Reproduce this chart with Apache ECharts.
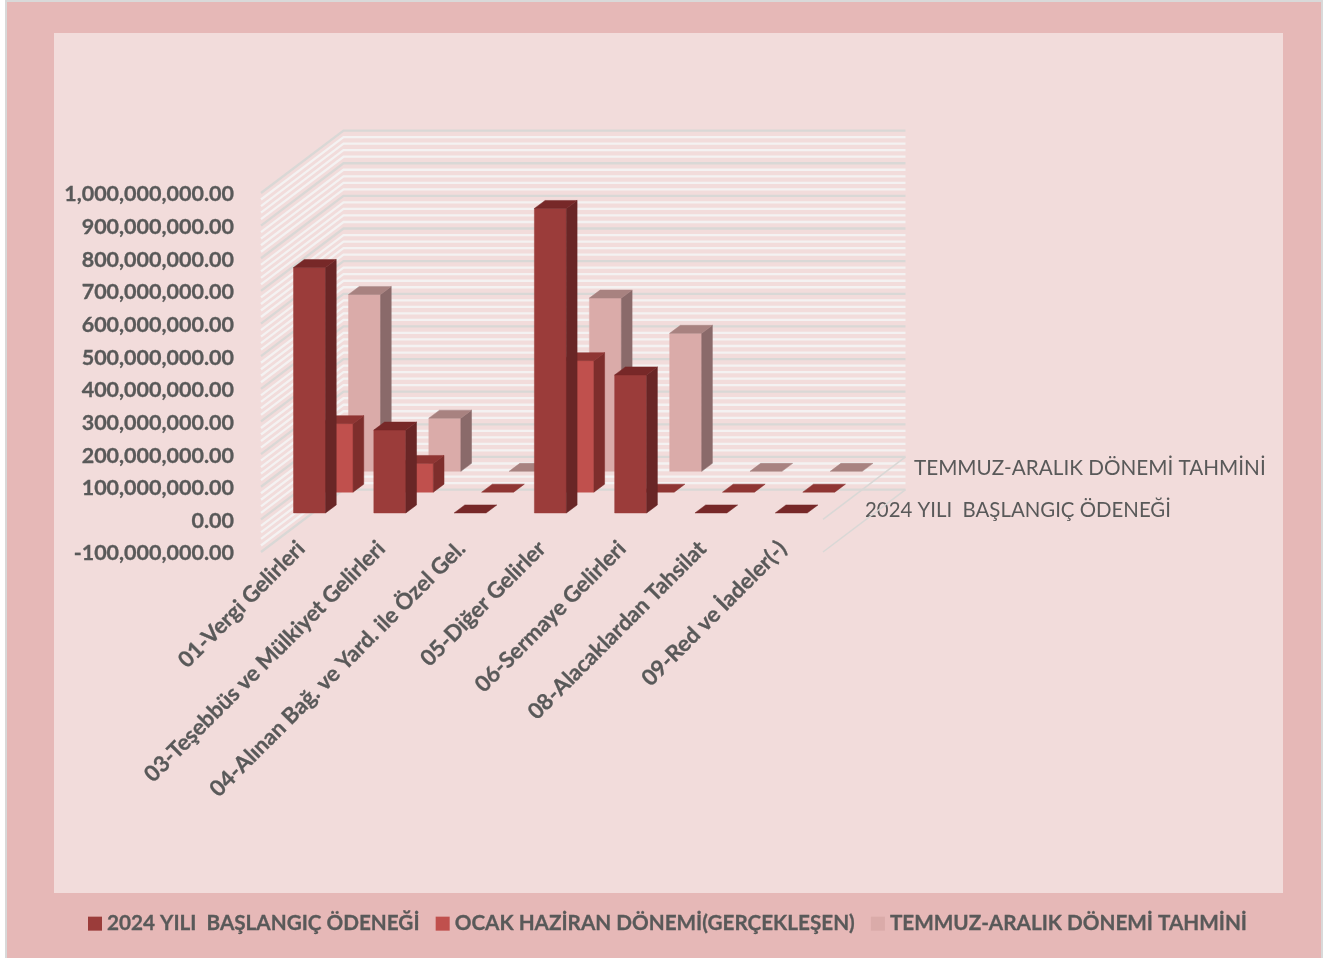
<!DOCTYPE html>
<html>
<head>
<meta charset="utf-8">
<script src="https://cdn.jsdelivr.net/npm/echarts@6/dist/echarts.min.js"></script>
<style>
  html, body { margin: 0; padding: 0; background: #ffffff; }
  #chart { width: 1341px; height: 958px; }
</style>
</head>
<body>
<div id="chart"></div>
<script>
  var categories = ['01-Vergi Gelirleri', '03-Teşebbüs ve Mülkiyet Gelirleri', '04-Alınan Bağ. ve Yard. ile Özel Gel.', '05-Diğer Gelirler', '06-Sermaye Gelirleri', '08-Alacaklardan Tahsilat', '09-Red ve İadeler(-)']
  var seriesNames = ['2024 YILI  BAŞLANGIÇ ÖDENEĞİ', 'OCAK HAZİRAN DÖNEMİ(GERÇEKLEŞEN)', 'TEMMUZ-ARALIK DÖNEMİ TAHMİNİ']
  var baslangic = [752000000, 254000000, 0, 933000000, 423000000, 0, 0]
  var gerceklesen = [210000000, 88000000, 0, 403000000, 0, 0, 0]
  var tahmin = [542000000, 163000000, 0, 531000000, 423000000, 0, 0]
  var majorTicks = [-100000000, 0, 100000000, 200000000, 300000000, 400000000, 500000000, 600000000, 700000000, 800000000, 900000000, 1000000000]
  var minorPerMajor = [20000000, 40000000, 60000000, 80000000]

  // oblique projection: one series row moves this far to the right and up
  var rowDx = 27.5
  var rowDy = -20.8
  var barDepthDx = 10.7
  var barDepthDy = -8
  var barWidth = 32

  var faceColors = ['#9B3C3A', '#C0504D', '#DAABA9']
  var sideColors = ['#692626', '#7E2E2C', '#8A6A6A']
  var topColors = ['#772828', '#8F3533', '#A88280']

  // minor lines first so the darker major lines stay on top
  var wallData = []
  majorTicks.forEach(function (t, i) {
    if (i < majorTicks.length - 1) {
      minorPerMajor.forEach(function (m) { wallData.push([t + m, 0]) })
    }
  })
  majorTicks.forEach(function (t) { wallData.push([t, 1]) })

  function poly (points, fill) {
    return {
      type: 'polygon',
      shape: {points: points},
      style: {fill: fill, stroke: fill, lineWidth: 0.5}
    }
  }

  function renderBar (row) {
    return function (params, api) {
      var base = api.coord([api.value(0), 0])
      var top = api.coord([api.value(0), api.value(1)])
      var offX = rowDx * row + (rowDx - barDepthDx) / 2
      var offY = rowDy * row + (rowDy - barDepthDy) / 2
      var x0 = base[0] - barWidth / 2 + offX
      var x1 = x0 + barWidth
      var yb = base[1] + offY
      var yt = top[1] + offY
      var dx = barDepthDx
      var dy = barDepthDy
      var children = []
      if (yb - yt > 0.5) {
        children.push(poly([[x0, yt], [x1, yt], [x1, yb], [x0, yb]], faceColors[row]))
        children.push(poly([[x1, yt], [x1 + dx, yt + dy], [x1 + dx, yb + dy], [x1, yb]], sideColors[row]))
      }
      children.push(poly([[x0, yt], [x0 + dx, yt + dy], [x1 + dx, yt + dy], [x1, yt]], topColors[row]))
      return {type: 'group', children: children}
    }
  }

  function renderWall (params, api) {
    var v = api.value(0)
    var major = api.value(1) === 1
    var band = api.size([1, 0])[0]
    var left = api.coord([0, v])[0] - band / 2
    var y = api.coord([0, v])[1]
    var right = left + band * categories.length
    var depthX = rowDx * 3
    var depthY = rowDy * 3
    var color = major ? '#D9D8D6' : '#F4F2F2'
    var children = [{
      type: 'polyline',
      shape: {points: [[left, y], [left + depthX, y + depthY], [right + depthX, y + depthY]]},
      style: {stroke: color, lineWidth: 2.3, fill: null}
    }]
    // the two floor edges on the open right side
    if (v <= 0 && major) {
      children.push({
        type: 'line',
        shape: {x1: right, y1: y, x2: right + depthX, y2: y + depthY},
        style: {stroke: '#D9D8D6', lineWidth: 1.5}
      })
    }
    return {type: 'group', children: children}
  }

  function barSeries (row, values) {
    return {
      name: seriesNames[row],
      type: 'custom',
      coordinateSystem: 'cartesian2d',
      renderItem: renderBar(row),
      itemStyle: {color: faceColors[row]},
      encode: {x: 0, y: 1},
      z: 5 - row,
      data: values.map(function (v, i) { return [i, v] })
    }
  }

  var myChart = echarts.init(document.getElementById('chart'), null, {renderer: 'canvas'})
  myChart.setOption({
    animation: false,
    backgroundColor: '#ffffff',
    textStyle: {fontFamily: 'Lato'},
    graphic: [
      {type: 'rect', z: -10, shape: {x: 6, y: 1, width: 1316, height: 958}, style: {fill: '#E6B8B7', stroke: '#D9D9D9', lineWidth: 2}},
      {type: 'rect', z: -9, shape: {x: 54, y: 33, width: 1229, height: 860}, style: {fill: '#F2DCDB'}},
      {type: 'text', z: 1, x: 914, y: 468, style: {text: seriesNames[2], fill: '#595959', font: '20.7px Lato', verticalAlign: 'middle'}},
      {type: 'text', z: 1, x: 865, y: 510, style: {text: seriesNames[0], fill: '#595959', font: '20.4px Lato', verticalAlign: 'middle'}}
    ],
    legend: {
      data: seriesNames,
      left: 88,
      top: 913,
      padding: 0,
      icon: 'rect',
      itemWidth: 14,
      itemHeight: 14,
      itemGap: 16,
      selectedMode: false,
      textStyle: {color: '#595959', fontFamily: 'Lato', fontWeight: 'bold', fontSize: 20.7, textBorderColor: '#595959', textBorderWidth: 0.3}
    },
    grid: {left: 261, top: 193, width: 562, height: 359},
    xAxis: {
      type: 'category',
      data: categories,
      axisLine: {show: false},
      axisTick: {show: false},
      axisLabel: {
        interval: 0,
        rotate: 45,
        margin: -7,
        color: '#595959',
        fontFamily: 'Lato',
        fontWeight: 'bold',
        fontSize: 22.2,
        textBorderColor: '#595959',
        textBorderWidth: 0.3
      }
    },
    yAxis: {
      type: 'value',
      min: -100000000,
      max: 1000000000,
      interval: 100000000,
      axisLine: {show: false},
      axisTick: {show: false},
      splitLine: {show: false},
      axisLabel: {
        margin: 27,
        formatter: function (value) {
          return '{t|' + value.toLocaleString('en-US', {minimumFractionDigits: 2, maximumFractionDigits: 2}) + '}'
        },
        rich: {
          t: {
            padding: [3, 0, 0, 0],
            color: '#595959',
            fontFamily: 'Lato',
            fontWeight: 'bold',
            fontSize: 21.5,
            textBorderColor: '#595959',
            textBorderWidth: 0.3
          }
        }
      }
    },
    series: [
      {
        type: 'custom',
        name: 'wall',
        coordinateSystem: 'cartesian2d',
        renderItem: renderWall,
        encode: {x: 1, y: 0},
        z: 1,
        silent: true,
        data: wallData
      },
      barSeries(0, baslangic),
      barSeries(1, gerceklesen),
      barSeries(2, tahmin)
    ]
  })
</script>
</body>
</html>
